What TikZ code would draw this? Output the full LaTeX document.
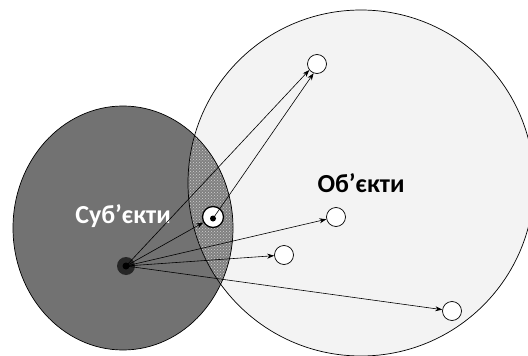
\documentclass[tikz,border=0pt]{standalone}
\usepackage{fontspec}
\setmainfont{Carlito}
\usetikzlibrary{arrows.meta,patterns}
\definecolor{objfill}{HTML}{F3F3F3}
\definecolor{subjfill}{HTML}{727272}
\definecolor{lensfill}{HTML}{808080}
\definecolor{lensdots}{HTML}{D0D0D0}
\tikzset{
  item/.style={circle,draw=black,line width=0.7pt,fill=white,minimum size=19pt,inner sep=0pt},
  link/.style={-{Stealth[length=7pt,width=5pt]},line width=0.6pt},
  lbl/.style={font=\bfseries\fontsize{26}{26}\selectfont,inner sep=0pt,anchor=base}
}
\def\objarea{(361,183) circle (173)}
\def\subjarea{(123,228) ellipse [x radius=110,y radius=122]}
\begin{document}
\begin{tikzpicture}[x=1pt,y=-1pt]
\useasboundingbox (0,0) rectangle (528,356);
% objects area
\fill[objfill] \objarea;
% subjects area
\fill[subjfill] \subjarea;
% overlap region
\begin{scope}
  \clip \objarea;
  \fill[lensfill] \subjarea;
  \fill[pattern=crosshatch dots,pattern color=lensdots] \subjarea;
\end{scope}
\draw[line width=0.7pt] \subjarea;
\draw[line width=0.7pt] \objarea;

% labels
\node[lbl,text=white] (subj) at (123,223) {Суб’єкти};
\node[lbl,text=black] (obj) at (361,192) {Об’єкти};

% source subject
\node[circle,fill=black!85,minimum size=18pt,inner sep=0pt] (s) at (126,266) {};
\fill[black] (s.center) circle (3.5);

% objects
\node[item] (o1) at (317,64) {};
\node[item] (o2) at (336,217) {};
\node[item] (o3) at (284,255) {};
\node[item] (o4) at (452,311) {};
\node[item,line width=1.3pt,minimum size=21pt] (lens) at (213,217) {};
\fill[black] (lens.center) ++(0,1.5) coordinate (ld) circle (3);

% access links
\draw[link] (s.center) -- (o1.218);
\draw[link] (ld) -- (o1.250);
\draw[link] (s.center) -- (lens);
\draw[link] (s.center) -- (o2);
\draw[link] (s.center) -- (o3);
\draw[link] (s.center) -- (o4);
\end{tikzpicture}
\end{document}
